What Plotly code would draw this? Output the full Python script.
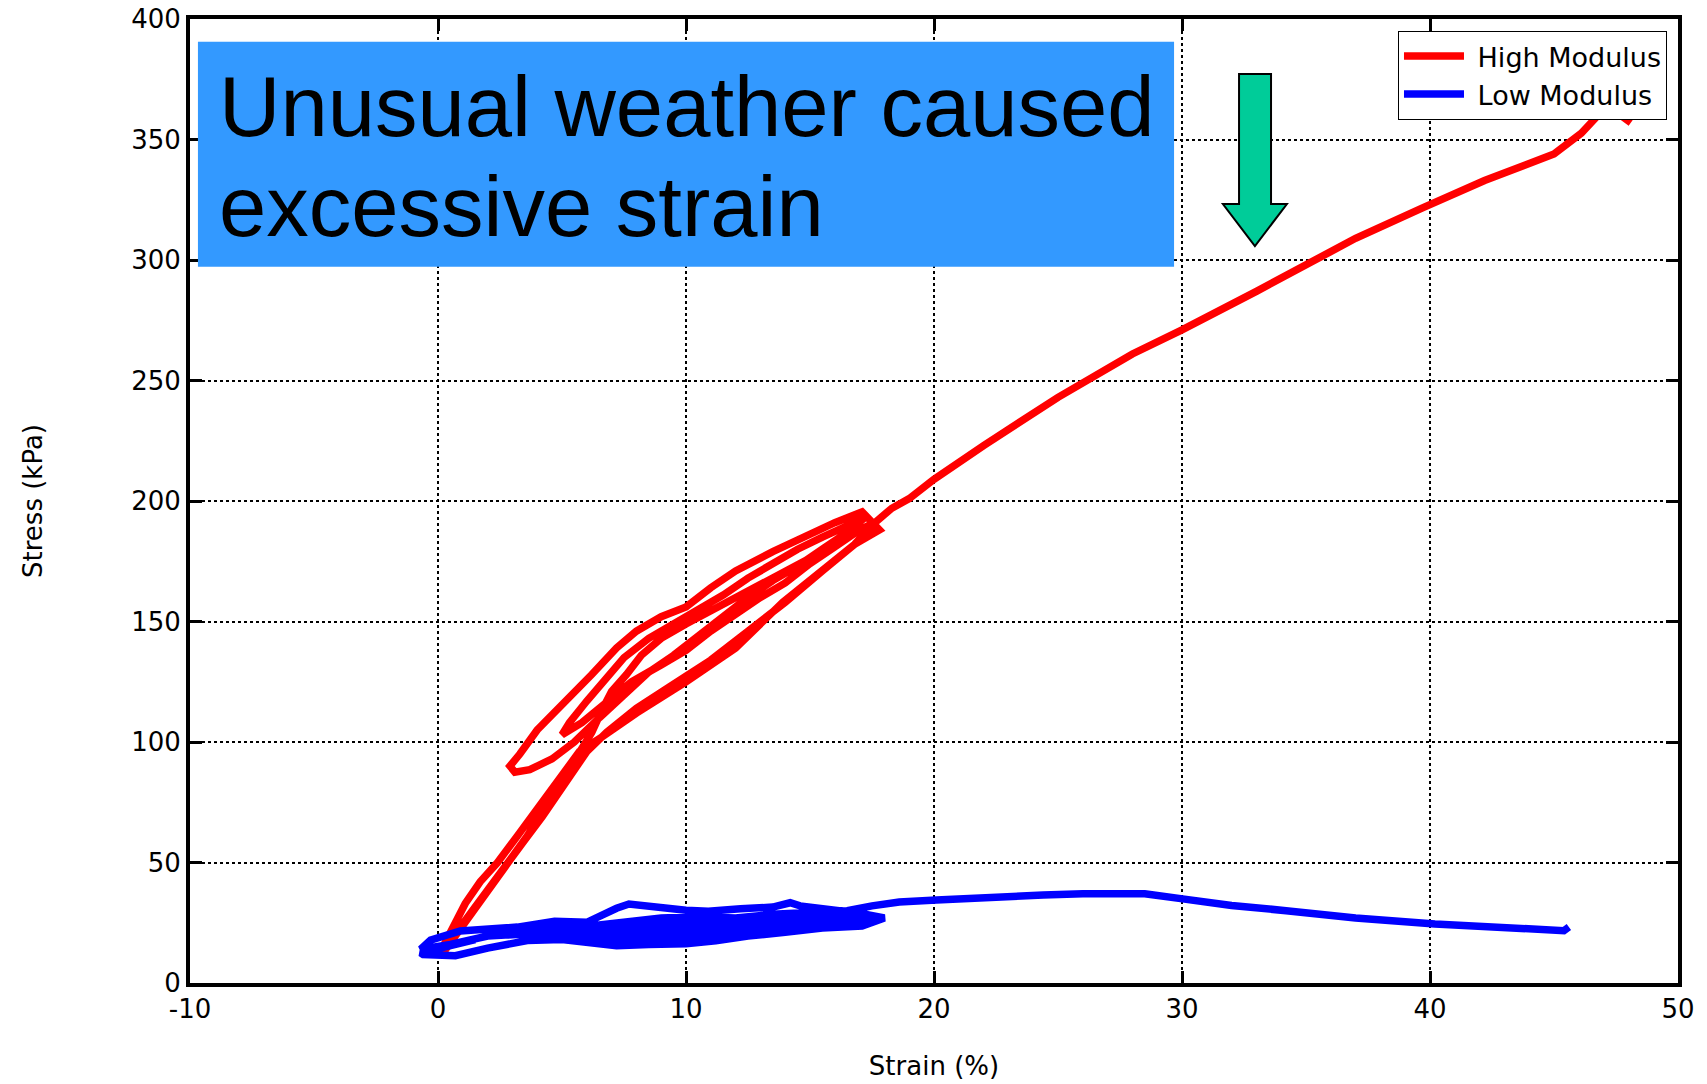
import plotly.graph_objects as go

# ---------------- data ----------------
high_strain = [
    0.0, 0.3, 0.7, 1.1, 1.7, 2.4, 3.2, 4.0, 4.6, 5.1, 5.7, 6.6, 8.0, 10.0, 12.0, 13.9, 15.5, 16.8, 17.8,
    17.1, 16.0, 14.5, 13.5, 12.0, 11.0, 10.0, 9.0, 8.0, 7.2, 6.2, 5.0, 4.0, 3.3, 2.9, 3.1, 3.7, 4.6,
    5.5, 6.5, 7.5, 8.5, 9.5, 10.5, 11.5, 12.5, 13.5, 14.5, 15.5, 16.5, 17.2,
    16.5, 15.5, 14.5, 13.5, 12.5, 11.5, 10.5, 9.5, 8.5, 7.5, 6.8, 6.0, 5.3, 5.0,
    5.8, 6.8, 7.8, 9.0, 10.0, 11.0, 12.0, 13.0, 14.0, 15.0, 16.0, 17.0, 17.6,
    16.8, 15.5, 14.0, 12.5, 11.0, 10.0, 9.0, 8.2, 7.6, 7.0, 6.6, 6.2,
    5.6, 4.9, 4.3, 3.6, 2.9, 2.2, 1.6, 1.0, 0.5, 0.1,
    0.6, 1.3, 2.0, 2.7, 3.4, 4.2, 4.9, 5.5, 6.0, 6.8, 8.0, 9.5, 11.0, 12.5, 14.0, 15.5, 16.8, 17.5,
    18.3, 19.0, 20.0, 22.0, 25.0, 28.0, 30.0, 33.0, 35.0, 37.0, 39.7, 42.2, 45.0, 46.1, 46.9, 47.5, 47.7, 48.1,
]
high_stress = [
    11, 17, 25, 33, 42, 50, 61, 72, 80, 88, 96, 102, 112, 125, 139, 158, 171, 182, 188,
    195.5, 191, 184, 179, 171, 164, 156, 152, 146, 139, 128, 116, 105, 95, 90, 87.5, 88.5, 93,
    100, 110, 120, 129, 136, 144, 152, 160, 167, 173, 180, 187, 193,
    190, 185, 180, 174, 168, 161, 155, 149, 143, 135, 127, 117, 108, 103,
    108, 117, 125, 132, 138, 146, 153, 160, 166, 174, 181, 188, 191,
    187, 179, 171, 163, 155, 149, 143, 136, 128, 121, 113, 104,
    94, 82, 72, 61, 51, 41, 32, 23, 16, 11,
    19, 29, 39, 48, 58, 69, 79, 88, 96, 104, 114, 124, 134, 146, 158, 171, 182, 190,
    197, 201, 209, 223, 243, 261, 271, 287, 298, 309, 321.6, 333, 344, 352.6, 361.4, 364, 360, 357,
]

low_strain = [
    1.5, 0.6, -0.2, -0.7,
    -0.6, 0.7, 2.0, 3.6, 5.0, 6.2, 7.2, 8.5, 10.0, 11.2, 12.5, 14.0, 15.5, 17.1, 18.0,
    17.0, 15.5, 14.6, 14.2, 13.5, 12.2, 10.9, 10.0, 8.8, 7.7, 7.2, 6.0, 4.7, 3.2, 0.9, -0.3, -0.7,
    0.5, 2.0, 4.0, 5.5, 7.0, 8.5, 10.0, 12.0, 14.0, 16.0, 17.2,
    16.0, 14.5, 13.0, 11.5, 10.0, 8.5, 7.0, 5.5, 4.0, 2.5,
    4.0, 5.5, 7.0, 8.5, 10.0, 11.5, 12.8, 14.5, 16.0, 17.6,
    16.0, 14.0, 12.0, 10.0, 8.5, 7.0, 5.5, 4.5,
    3.0, 4.5, 6.0, 7.5, 9.0, 10.5, 12.0, 13.5, 15.0, 16.5, 17.5,
    16.0, 14.5, 13.0, 11.5, 10.0, 8.5, 7.0, 5.5,
    6.0, 7.5, 9.0, 10.5, 12.0, 13.5, 15.0, 16.5, 17.5, 18.6, 20.1, 22.0, 24.4, 26.0, 27.7, 28.5,
    30.1, 32.0, 34.2, 37.0, 40.2, 43.0, 45.4, 45.6,
]
low_stress = [
    18.0, 16.0, 14.0, 12.5,
    11.8, 11.3, 14.5, 17.6, 18.0, 17.0, 15.5, 16.0, 16.3, 17.5, 19.5, 21.0, 22.8, 23.6, 27.0,
    29.0, 30.5, 32.0, 33.3, 31.5, 30.8, 29.8, 30.2, 31.5, 32.8, 31.0, 25.2, 25.6, 23.2, 21.6, 17.8, 14.0,
    16.0, 19.5, 20.5, 21.5, 19.5, 20.0, 21.0, 22.5, 24.5, 26.0, 28.5,
    28.0, 27.5, 26.5, 26.0, 25.5, 25.0, 24.0, 22.5, 23.5, 21.5,
    19.5, 19.5, 18.0, 18.5, 19.0, 20.0, 21.5, 23.0, 24.5, 25.5,
    25.5, 24.0, 23.5, 23.0, 22.5, 21.5, 23.5, 24.5,
    22.5, 22.0, 21.5, 17.0, 17.5, 18.0, 20.5, 22.0, 24.0, 25.0, 27.0,
    27.0, 26.0, 24.5, 24.0, 23.0, 22.5, 22.0, 20.0,
    23.5, 25.5, 27.0, 27.5, 27.0, 28.5, 29.0, 30.0, 32.0, 33.6, 34.4, 35.5, 36.5, 37.0, 37.3, 37.0,
    34.8, 32.2, 30.0, 27.0, 24.5, 22.8, 21.7, 23.2,
]

x_ticks = [-10, 0, 10, 20, 30, 40, 50]
y_ticks = [0, 50, 100, 150, 200, 250, 300, 350, 400]
series_names = ["High Modulus", "Low Modulus"]
callout_lines = ["Unusual weather caused", "excessive strain"]

# ---------------- figure ----------------
fig = go.Figure()
fig.add_trace(go.Scatter(x=high_strain, y=high_stress, mode="lines", name="\u00a0" + series_names[0],
                         line=dict(color="#ff0000", width=7.5)))
fig.add_trace(go.Scatter(x=low_strain, y=low_stress, mode="lines", name="\u00a0" + series_names[1],
                         line=dict(color="#0000ff", width=7.5)))

tick_font = dict(family="DejaVu Sans", size=26, color="black")
axis_common = dict(
    showline=True, linewidth=4, linecolor="black", mirror="ticks",
    ticks="inside", ticklen=12, tickwidth=3, tickcolor="black",
    showgrid=True, gridcolor="black", gridwidth=1.5, griddash="dot",
    zeroline=False, tickfont=tick_font, automargin=False,
)
fig.update_xaxes(range=[-10, 50], tickvals=x_ticks, ticktext=[str(v) for v in x_ticks],
                 title=dict(text="Strain (%)", font=tick_font, standoff=35),
                 ticklabelstandoff=0, **axis_common)
fig.update_yaxes(range=[0, 400], tickvals=y_ticks, ticktext=[str(v) for v in y_ticks],
                 title=dict(text="Stress (kPa)", font=tick_font, standoff=82),
                 ticklabelstandoff=0, **axis_common)

# blue call-out box
fig.add_shape(type="rect", xref="x", yref="y", x0=-9.68, x1=29.68, y0=297.2, y1=390.6,
              fillcolor="#3399ff", line=dict(width=0), layer="above")
fig.add_annotation(text=callout_lines[0], xref="x", yref="y", x=-8.9, y=363.9,
                   xanchor="left", yanchor="middle", showarrow=False,
                   font=dict(family="Liberation Sans, Arial", size=85, color="black"))
fig.add_annotation(text=callout_lines[1], xref="x", yref="y", x=-8.9, y=322.0,
                   xanchor="left", yanchor="middle", showarrow=False,
                   font=dict(family="Liberation Sans, Arial", size=85, color="black"))

# green down arrow
fig.add_shape(type="path", xref="x", yref="y",
              path="M 32.3 377.2 L 33.59 377.2 L 33.59 323.2 L 34.23 323.2 L 32.94 305.8 "
                   "L 31.65 323.2 L 32.3 323.2 Z",
              fillcolor="#00cc99", line=dict(color="black", width=2), layer="above")

fig.update_layout(
    width=1707, height=1084,
    margin=dict(l=190, r=29, t=19, b=101),
    paper_bgcolor="white", plot_bgcolor="white",
    showlegend=True,
    legend=dict(x=0.9926, y=0.9876, xanchor="right", yanchor="top",
                bgcolor="white", bordercolor="black", borderwidth=1,
                font=dict(family="DejaVu Sans", size=27, color="black"),
                itemwidth=60, tracegroupgap=0),
)

fig.write_html("out.html")
